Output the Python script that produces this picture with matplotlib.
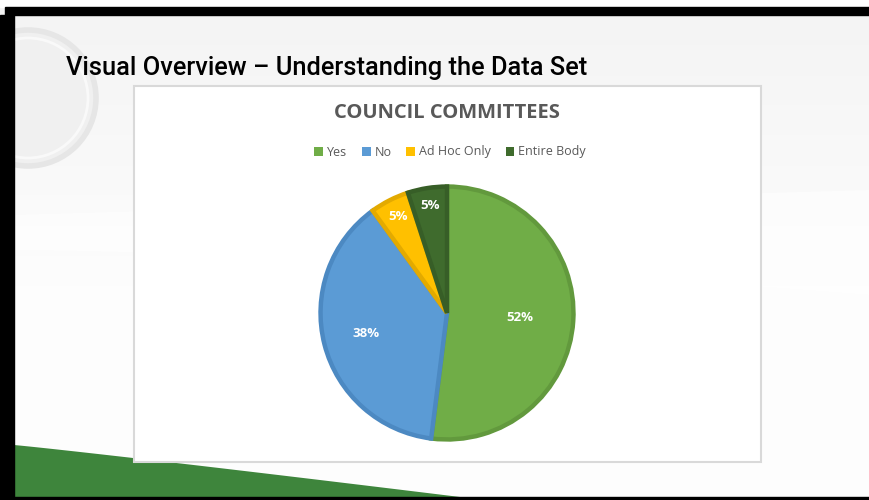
import numpy as np
import matplotlib
matplotlib.use('Agg')
import matplotlib.pyplot as plt
from matplotlib.patches import Rectangle, Polygon, Circle

# Data
categories = ['Yes', 'No', 'Ad Hoc Only', 'Entire Body']
shares = [52, 38, 5, 5]
fill_colors = ['#70AD47', '#5B9BD5', '#FFC000', '#3F6B2D']
edge_colors = ['#62993D', '#4C89C2', '#E3AA00', '#375E27']
label_dist = [0.58, 0.66, 0.86, 0.86]

W, H = 869, 500
fig = plt.figure(figsize=(W / 100, H / 100), dpi=100)

# Slide background in pixel coordinates
bg = fig.add_axes([0, 0, 1, 1])
bg.set_xlim(0, W)
bg.set_ylim(H, 0)
bg.axis('off')

# soft vertical shading: light grey at top, nearly white at bottom
shade = np.clip(np.linspace(0.955, 1.02, 256), 0, 0.995).reshape(-1, 1)
bg.imshow(np.dstack([shade] * 3), extent=(0, W, H, 0), aspect='auto', zorder=0)

# faint light band across the slide
xs = np.linspace(14, W, 100)
top = 215 - 25 * (xs - 14) / (W - 14)
bot = 250 + 45 * ((xs - 14) / (W - 14)) ** 1.5
bg.add_patch(Polygon(np.column_stack([np.r_[xs, xs[::-1]], np.r_[top, bot[::-1]]]),
                     closed=True, facecolor='white', alpha=0.55, edgecolor='none',
                     zorder=1))

# logo watermark
bg.add_patch(Circle((28, 98), 68, facecolor='#f0f0f0', edgecolor='#e6e6e6',
                    lw=4, zorder=1))
bg.add_patch(Circle((28, 98), 60, facecolor='none', edgecolor='#f9f9f9',
                    lw=2, zorder=1))

# green wedge at bottom-left
gx = np.linspace(14, 460, 60)
gy = 445 + 52 * ((gx - 14) / 446) ** 1.05
bg.add_patch(Polygon(np.column_stack([np.r_[gx, 14], np.r_[gy, 497]]),
                     closed=True, facecolor='#3E853C', edgecolor='none', zorder=2))

# black frame
bg.add_patch(Rectangle((0, 0), W, 7, color='white', zorder=4))
bg.add_patch(Rectangle((5, 7), W, 8, color='black', zorder=5))
bg.add_patch(Rectangle((0, 15), 14, H, color='black', zorder=5))
bg.add_patch(Rectangle((0, 497), W, 5, color='black', zorder=5))

# chart box
bg.add_patch(Rectangle((134, 86), 627, 376, facecolor='white',
                       edgecolor='#d9d9d9', lw=1.5, zorder=3))

bg.text(66, 68, 'Visual Overview \u2013 Understanding the Data Set', fontsize=18.3,
        family='Roboto', fontweight='medium', color='black', va='center',
        ha='left', zorder=6)
bg.text(447, 113, 'COUNCIL COMMITTEES', fontsize=14.5, family='Open Sans',
        fontweight='bold', color='#595959', va='center', ha='center', zorder=6)

# Pie
cx, cy, r = 447, 313, 129
ax = fig.add_axes([(cx - r) / W, (H - cy - r) / H, 2 * r / W, 2 * r / H])
wedges, _ = ax.pie(shares, colors=fill_colors, startangle=90, counterclock=False,
                   radius=1, wedgeprops=dict(linewidth=3.2))
for w, ec in zip(wedges, edge_colors):
    w.set_edgecolor(ec)
for w, v, d in zip(wedges, shares, label_dist):
    ang = np.deg2rad((w.theta1 + w.theta2) / 2)
    ax.text(d * np.cos(ang), d * np.sin(ang), f'{v}%', ha='center', va='center',
            color='white', fontsize=9.5, fontweight='bold', family='Open Sans')
ax.set_xlim(-1.02, 1.02)
ax.set_ylim(-1.02, 1.02)
ax.set_aspect('equal')
ax.patch.set_alpha(0)

leg = fig.legend(wedges, categories, loc='center', bbox_to_anchor=(450 / W, 1 - 152 / H),
                 ncol=4, frameon=False, handlelength=0.7, handleheight=0.7,
                 handletextpad=0.3, columnspacing=1.2,
                 prop={'family': 'Open Sans', 'size': 9})
for t in leg.get_texts():
    t.set_color('#595959')
for h, c in zip(leg.legend_handles, fill_colors):
    h.set_edgecolor(c)
    h.set_linewidth(0)

fig.savefig('out.png', dpi=100)
